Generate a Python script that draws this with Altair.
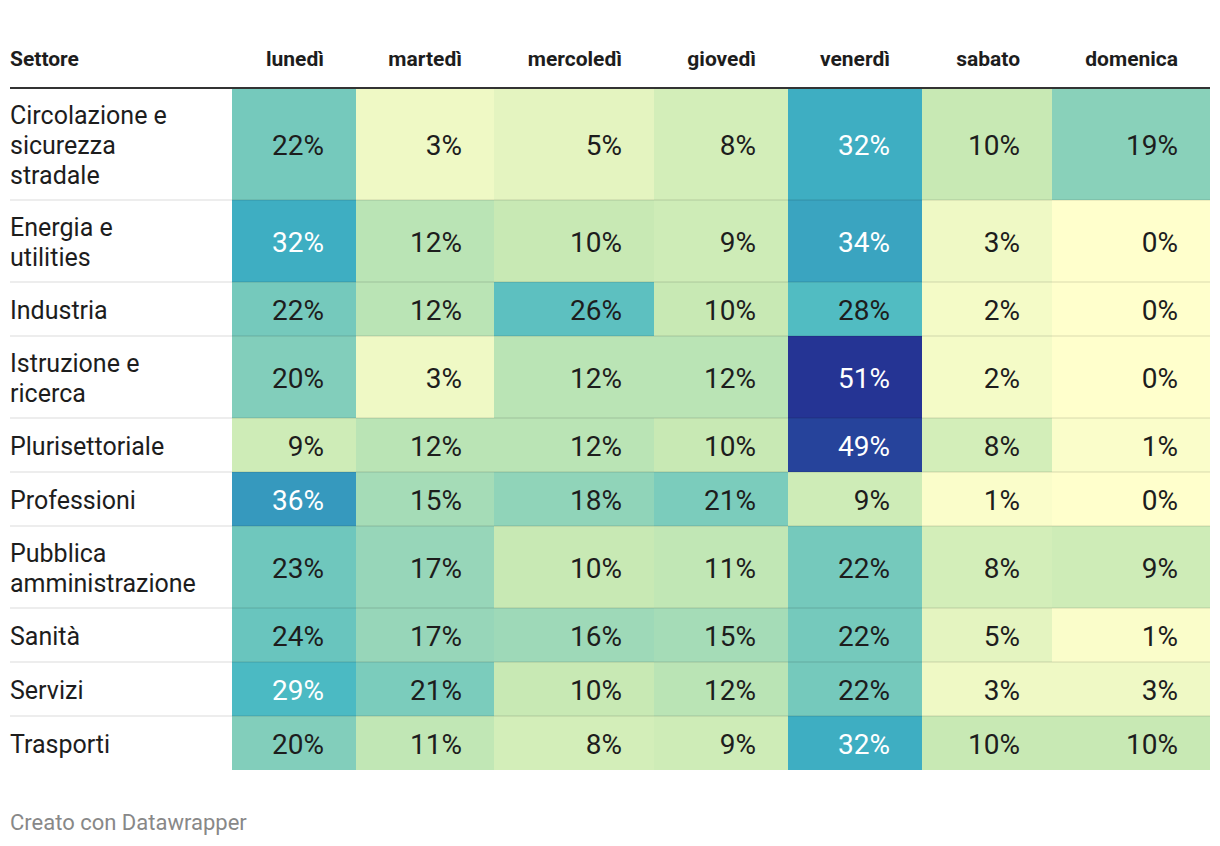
import altair as alt
import pandas as pd

# ---------------- data ----------------
sectors = [
    "Circolazione e sicurezza stradale",
    "Energia e utilities",
    "Industria",
    "Istruzione e ricerca",
    "Plurisettoriale",
    "Professioni",
    "Pubblica amministrazione",
    "Sanità",
    "Servizi",
    "Trasporti",
]
sector_labels = [
    "Circolazione e\nsicurezza\nstradale",
    "Energia e\nutilities",
    "Industria",
    "Istruzione e\nricerca",
    "Plurisettoriale",
    "Professioni",
    "Pubblica\namministrazione",
    "Sanità",
    "Servizi",
    "Trasporti",
]
days = ["lunedì", "martedì", "mercoledì", "giovedì", "venerdì", "sabato", "domenica"]

lunedi = [22, 32, 22, 20, 9, 36, 23, 24, 29, 20]
martedi = [3, 12, 12, 3, 12, 15, 17, 17, 21, 11]
mercoledi = [5, 10, 26, 12, 12, 18, 10, 16, 10, 8]
giovedi = [8, 9, 10, 12, 10, 21, 11, 15, 12, 9]
venerdi = [32, 34, 28, 51, 49, 9, 22, 22, 22, 32]
sabato = [10, 3, 2, 2, 8, 1, 8, 5, 3, 10]
domenica = [19, 0, 0, 0, 1, 0, 9, 1, 3, 10]
values_by_day = [lunedi, martedi, mercoledi, giovedi, venerdi, sabato, domenica]

header_first = "Settore"
footer = "Creato con Datawrapper"

# ---------------- layout (table geometry, style) ----------------
W, H = 1204, 830
ORIGIN = 8                      # page margin
LABEL_X = 10
FIRST_CELL_X = 232
COL_WIDTHS = [124, 138, 160, 134, 134, 130, 158]
TABLE_RIGHT = 1210
HEADER_LINE_Y = 88
HEADER_BASELINE = 66
TABLE_TOP = 89
ROW_H = {1: 54, 2: 82, 3: 111}
LINE_H = 30
PAD_RIGHT = 32
FOOTER_BASELINE = 830
FONT = "Roboto"

def px(v):
    return v - ORIGIN

col_left = []
acc = FIRST_CELL_X
for w in COL_WIDTHS:
    col_left.append(acc)
    acc += w
col_right = [l + w for l, w in zip(col_left, COL_WIDTHS)]

row_top, row_bot, row_lines = [], [], []
acc = TABLE_TOP
for lab in sector_labels:
    n = lab.count("\n") + 1
    row_lines.append(n)
    row_top.append(acc)
    acc += ROW_H[n]
    row_bot.append(acc)

cells = []
for j, d in enumerate(days):
    for i, s in enumerate(sectors):
        v = values_by_day[j][i]
        cells.append({
            "sector": s, "day": d, "value": v, "label": f"{v}%",
            "x0": px(col_left[j]), "x1": px(col_right[j]),
            "y0": px(row_top[i]), "y1": px(row_bot[i]),
            "xt": px(col_right[j] - PAD_RIGHT),
            "yt": px((row_top[i] + row_bot[i]) / 2 + 2.5),
        })
cells_df = pd.DataFrame(cells)

rows_df = pd.DataFrame({
    "label": sector_labels,
    "x": [px(LABEL_X)] * len(sectors),
    "y": [px((t + b) / 2 - (n - 1) * LINE_H / 2 + 1.5)
          for t, b, n in zip(row_top, row_bot, row_lines)],
})

sep_df = pd.DataFrame({
    "x": [px(LABEL_X)] * (len(sectors) - 1),
    "x2": [px(TABLE_RIGHT)] * (len(sectors) - 1),
    "y": [px(b) for b in row_bot[:-1]],
})

head_days_df = pd.DataFrame({
    "label": days,
    "x": [px(r - PAD_RIGHT) for r in col_right],
    "y": [px(HEADER_BASELINE)] * len(days),
})
head_first_df = pd.DataFrame({"label": [header_first], "x": [px(LABEL_X)], "y": [px(HEADER_BASELINE)]})
head_line_df = pd.DataFrame({"x": [px(LABEL_X)], "x2": [px(TABLE_RIGHT)], "y": [px(HEADER_LINE_Y)]})
footer_df = pd.DataFrame({"label": [footer], "x": [px(LABEL_X)], "y": [px(FOOTER_BASELINE)]})

xs = alt.Scale(domain=[0, W], range=[0, W], nice=False, zero=False)
ys = alt.Scale(domain=[0, H], range=[0, H], nice=False, zero=False)

color_scale = alt.Scale(
    domain=[0, 10.2, 20.4, 30.6, 40.8, 51],
    range=["#ffffcc", "#c7e9b4", "#7fcdbb", "#41b6c4", "#2c7fb8", "#253494"],
    interpolate="rgb",
)

rects = alt.Chart(cells_df).mark_rect(strokeWidth=0).encode(
    x=alt.X("x0:Q", scale=xs, axis=None),
    x2="x1:Q",
    y=alt.Y("y0:Q", scale=ys, axis=None),
    y2="y1:Q",
    color=alt.Color("value:Q", scale=color_scale, legend=None),
)

seps = alt.Chart(sep_df).mark_rule(color="#000000", opacity=0.07, strokeWidth=2).encode(
    x=alt.X("x:Q", scale=xs, axis=None),
    x2="x2:Q",
    y=alt.Y("y:Q", scale=ys, axis=None),
)

head_line = alt.Chart(head_line_df).mark_rule(color="#333333", strokeWidth=2).encode(
    x=alt.X("x:Q", scale=xs, axis=None),
    x2="x2:Q",
    y=alt.Y("y:Q", scale=ys, axis=None),
)

nums = alt.Chart(cells_df).mark_text(
    align="right", baseline="middle", font=FONT, fontSize=28
).encode(
    x=alt.X("xt:Q", scale=xs, axis=None),
    y=alt.Y("yt:Q", scale=ys, axis=None),
    text="label:N",
    color=alt.condition("datum.value >= 29", alt.value("#ffffff"), alt.value("#1d1d1d")),
)

labels = alt.Chart(rows_df).mark_text(
    align="left", baseline="middle", font=FONT, fontSize=25, lineBreak="\n",
    lineHeight=LINE_H, color="#1d1d1d"
).encode(
    x=alt.X("x:Q", scale=xs, axis=None),
    y=alt.Y("y:Q", scale=ys, axis=None),
    text="label:N",
)

head_days = alt.Chart(head_days_df).mark_text(
    align="right", baseline="alphabetic", font=FONT, fontSize=21, fontWeight="bold",
    color="#1d1d1d"
).encode(
    x=alt.X("x:Q", scale=xs, axis=None),
    y=alt.Y("y:Q", scale=ys, axis=None),
    text="label:N",
)

head_first = alt.Chart(head_first_df).mark_text(
    align="left", baseline="alphabetic", font=FONT, fontSize=21, fontWeight="bold",
    color="#1d1d1d"
).encode(
    x=alt.X("x:Q", scale=xs, axis=None),
    y=alt.Y("y:Q", scale=ys, axis=None),
    text="label:N",
)

foot = alt.Chart(footer_df).mark_text(
    align="left", baseline="alphabetic", font=FONT, fontSize=22, color="#888888"
).encode(
    x=alt.X("x:Q", scale=xs, axis=None),
    y=alt.Y("y:Q", scale=ys, axis=None),
    text="label:N",
)

chart = alt.layer(
    rects, seps, head_line, nums, labels, head_days, head_first, foot
).properties(
    width=W, height=H, padding=0, autosize=alt.AutoSizeParams(type="none"),
    background="white"
).configure_view(strokeWidth=0, stroke=None)

chart.save("out.html", embed_options={"renderer": "svg", "actions": False})
